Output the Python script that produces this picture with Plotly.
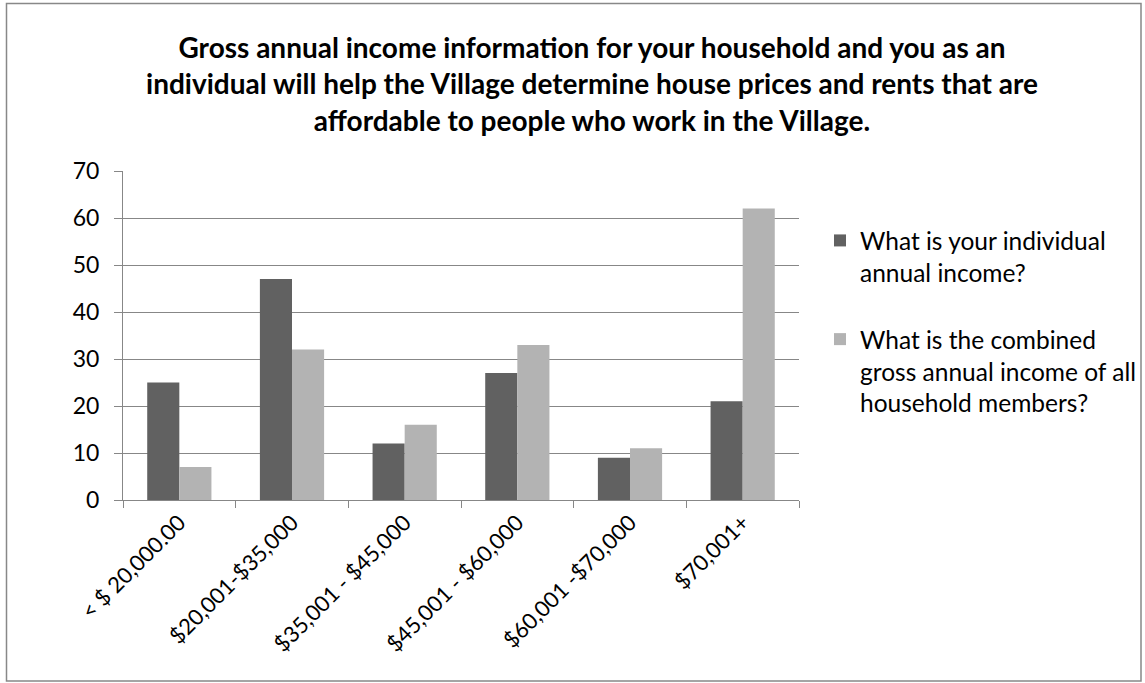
import plotly.graph_objects as go

categories = ["< $ 20,000.00", "$20,001-$35,000", "$35,001 - $45,000",
              "$45,001 - $60,000", "$60,001 -$70,000", "$70,001+"]
individual = [25, 47, 12, 27, 9, 21]
household = [7, 32, 16, 33, 11, 62]
series_names = ["What is your individual<br>annual income?",
                "What is the combined<br>gross annual income of all<br>household members?"]
title_text = ("Gross annual income information for your household and you as an<br>"
              "individual will help the Village determine house prices and rents that are<br>"
              "affordable to people who work in the Village.")

W, H = 1145, 683
L, R, T, B = 123, 346, 171, 183
pw, ph = W - L - R, H - T - B

FONT = "Lato"
AXIS_GREY = "#878787"

fig = go.Figure()
fig.add_trace(go.Bar(x=categories, y=individual, name=series_names[0], legendgroup="ind",
                     marker=dict(color="#616161", line=dict(width=0))))
fig.add_trace(go.Bar(x=categories, y=household, name=series_names[1], legendgroup="hh",
                     marker=dict(color="#b3b3b3", line=dict(width=0))))


def px_x(p):
    return (p - L) / pw


def px_y(p):
    return (H - B - p) / ph


fig.update_layout(
    width=W, height=H,
    margin=dict(l=L, r=R, t=T, b=B, autoexpand=False),
    paper_bgcolor="white", plot_bgcolor="white",
    barmode="group", bargap=0.43, bargroupgap=0,
    font=dict(family=FONT, color="black", size=22),
    title=dict(text=title_text, x=592 / W, xanchor="center", xref="container",
               y=1 - 58 / H, yanchor="top", yref="container",
               font=dict(family=FONT, size=28, color="black", weight="bold")),
    xaxis=dict(showgrid=False, showline=True, linecolor=AXIS_GREY, linewidth=1,
               ticks="outside", tickson="boundaries", ticklen=7, tickcolor=AXIS_GREY,
               tickangle=-45, tickfont=dict(size=22), zeroline=False),
    yaxis=dict(range=[0, 70], dtick=10, showgrid=True, gridcolor=AXIS_GREY, gridwidth=1,
               showline=True, linecolor=AXIS_GREY, linewidth=1,
               ticks="outside", ticklen=8, tickcolor=AXIS_GREY, ticklabelstandoff=10,
               tickfont=dict(size=23), zeroline=False),
    legend=dict(x=px_x(820), y=px_y(218), xanchor="left", yanchor="top",
                font=dict(size=24.5), tracegroupgap=32, itemwidth=30, valign="top",
                bgcolor="rgba(0,0,0,0)"),
    shapes=[dict(type="rect", xref="paper", yref="paper",
                 x0=px_x(6.5), x1=px_x(1141), y0=px_y(681), y1=px_y(3.5),
                 line=dict(color="#888888", width=1.5), fillcolor="rgba(0,0,0,0)",
                 layer="below")],
)

fig.write_html("out.html")
